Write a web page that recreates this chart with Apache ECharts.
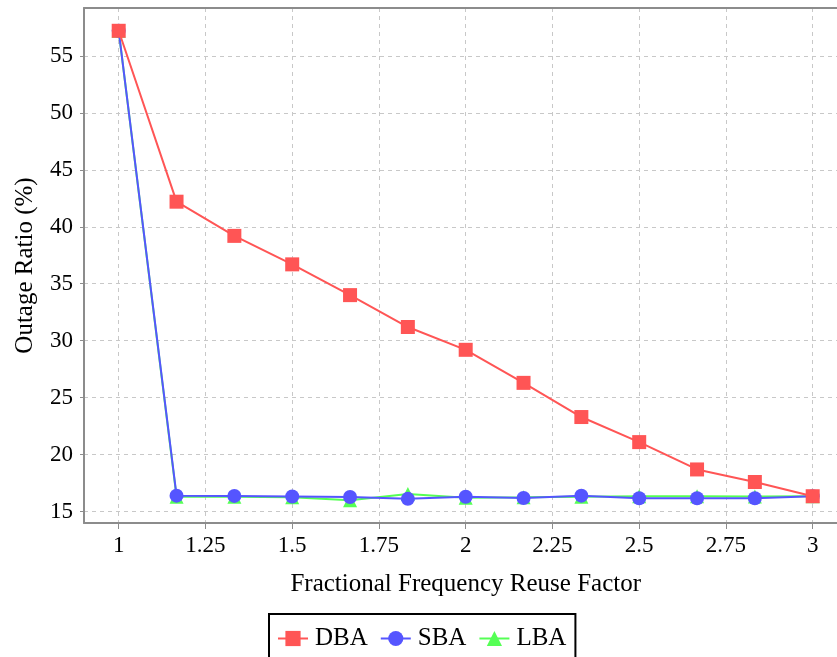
<!DOCTYPE html>
<html>
<head>
<meta charset="utf-8">
<script src="https://cdn.jsdelivr.net/npm/echarts@6/dist/echarts.min.js"></script>
<style>
  html, body { margin: 0; padding: 0; background: #ffffff; }
  #chart { width: 837px; height: 657px; }
</style>
</head>
<body>
<div id="chart"></div>
<script>
// Reuse factor sampled in steps of 1/6
const reuseFactor = [1, 1.1667, 1.3333, 1.5, 1.6667, 1.8333, 2, 2.1667, 2.3333, 2.5, 2.6667, 2.8333, 3];
const dba = [57.2, 42.2, 39.2, 36.7, 34.0, 31.2, 29.2, 26.3, 23.3, 21.1, 18.7, 17.6, 16.35];
const sba = [57.2, 16.4, 16.38, 16.33, 16.28, 16.12, 16.3, 16.2, 16.4, 16.17, 16.17, 16.17, 16.35];
const lba = [57.2, 16.3, 16.3, 16.25, 16.0, 16.55, 16.22, 16.25, 16.3, 16.35, 16.35, 16.32, 16.35];
const xTicks = [1, 1.25, 1.5, 1.75, 2, 2.25, 2.5, 2.75, 3];
const yTicks = [15, 20, 25, 30, 35, 40, 45, 50, 55];

const FONT = '"Liberation Serif", "DejaVu Serif", serif';
const AXIS_GRAY = '#8c8c8c';
const GRID_GRAY = '#c8c8c8';

function pairs(ys) { return reuseFactor.map((x, i) => [x, ys[i]]); }

const chart = echarts.init(document.getElementById('chart'), null, { renderer: 'canvas' });

chart.setOption({
  backgroundColor: '#ffffff',
  animation: false,
  grid: {
    left: 84, top: 8, width: 763.4, height: 515,
    outerBoundsMode: 'none', containLabel: false, show: false
  },
  xAxis: [
    {
      type: 'value', min: 0.9, max: 3.1, minInterval: 0.25, maxInterval: 0.25,
      name: 'Fractional Frequency Reuse Factor', nameLocation: 'middle', nameGap: 49,
      nameTextStyle: { fontFamily: FONT, fontSize: 25, color: '#000' },
      axisLine: { show: true, lineStyle: { color: AXIS_GRAY, width: 2 } },
      axisTick: { show: true, length: 6, customValues: xTicks, lineStyle: { color: AXIS_GRAY, width: 1 } },
      axisLabel: {
        customValues: xTicks, margin: 11,
        fontFamily: FONT, fontSize: 23, color: '#000',
        formatter: v => String(v)
      },
      splitLine: { show: true, lineStyle: { color: GRID_GRAY, type: [4, 4], width: 1 } }
    },
    {
      // plain frame line along the top of the plot
      type: 'value', position: 'top', min: 0.9, max: 3.1,
      axisLine: { show: true, onZero: false, lineStyle: { color: AXIS_GRAY, width: 2 } },
      axisTick: { show: false }, axisLabel: { show: false }, splitLine: { show: false }
    }
  ],
  yAxis: {
    type: 'value', min: 14.0, max: 59.2, minInterval: 5, maxInterval: 5,
    name: 'Outage Ratio (%)', nameLocation: 'middle', nameGap: 46,
    nameTextStyle: { fontFamily: FONT, fontSize: 25, color: '#000' },
    axisLine: { show: true, lineStyle: { color: AXIS_GRAY, width: 2 } },
    axisTick: { show: true, length: 4, customValues: yTicks, lineStyle: { color: AXIS_GRAY, width: 1 } },
    axisLabel: {
      customValues: yTicks, margin: 11,
      fontFamily: FONT, fontSize: 23, color: '#000',
      formatter: v => String(v)
    },
    splitLine: { show: true, lineStyle: { color: GRID_GRAY, type: [4, 4], width: 1 } }
  },
  legend: {
    left: 269, top: 614, orient: 'horizontal',
    padding: [12, 9, 12, 8], itemGap: 12,
    itemWidth: 30, itemHeight: 19,
    borderColor: '#000', borderWidth: 2, borderRadius: 0,
    backgroundColor: '#ffffff',
    textStyle: { fontFamily: FONT, fontSize: 25, color: '#000', padding: [0, 0, 0, 2] },
    data: ['DBA', 'SBA', 'LBA']
  },
  series: [
    {
      name: 'DBA', type: 'line', data: pairs(dba), z: 4,
      symbol: 'rect', symbolSize: 14, showAllSymbol: true,
      color: '#ff5555', lineStyle: { width: 2, color: '#ff5555' },
      itemStyle: { color: '#ff5555' }
    },
    {
      name: 'SBA', type: 'line', data: pairs(sba), z: 3,
      symbol: 'circle', symbolSize: 14, showAllSymbol: true,
      color: '#5555ff', lineStyle: { width: 2, color: '#5555ff' },
      itemStyle: { color: '#5555ff' }
    },
    {
      name: 'LBA', type: 'line', data: pairs(lba), z: 2,
      symbol: 'triangle', symbolSize: 14, showAllSymbol: true,
      color: '#55ff55', lineStyle: { width: 2, color: '#55ff55' },
      itemStyle: { color: '#55ff55' }
    }
  ]
});
</script>
</body>
</html>
